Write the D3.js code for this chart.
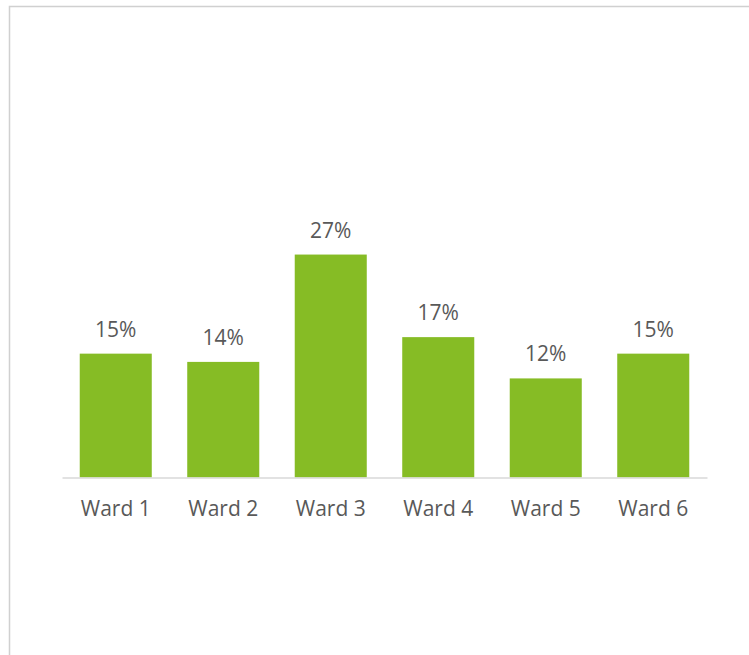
<!DOCTYPE html>
<html>
<head>
<meta charset="utf-8">
<script src="https://cdn.jsdelivr.net/npm/d3@7"></script>
<style>
  html, body { margin: 0; padding: 0; background: #fff; }
  svg { display: block; }
</style>
</head>
<body>
<svg id="chart" width="749" height="655"></svg>
<script>
// Share of respondents by ward
const categories = ["Ward 1", "Ward 2", "Ward 3", "Ward 4", "Ward 5", "Ward 6"];
const values = [0.15, 0.14, 0.27, 0.17, 0.12, 0.15];
const valueLabels = ["15%", "14%", "27%", "17%", "12%", "15%"];

const svg = d3.select("#chart");
const W = 749, H = 655;

// chart area outline (extends past the right and bottom edges)
svg.append("rect")
  .attr("x", 9.5).attr("y", 6.5)
  .attr("width", W + 20).attr("height", H + 20)
  .attr("fill", "#fff")
  .attr("stroke", "#d0d0d0")
  .attr("stroke-width", 1.5);

const plot = { left: 62, right: 707, top: 188.5, bottom: 477.5 };

const x = d3.scaleBand()
  .domain(categories)
  .range([plot.left, plot.right])
  .paddingInner(0.33)
  .paddingOuter(0.165);

const y = d3.scaleLinear()
  .domain([0, 0.35])
  .range([plot.bottom, plot.top]);

const font = "'Open Sans', sans-serif";
const textColor = "#595959";

svg.append("g")
  .selectAll("rect")
  .data(values)
  .join("rect")
  .attr("x", (d, i) => x(categories[i]))
  .attr("y", d => y(d))
  .attr("width", x.bandwidth())
  .attr("height", d => y(0) - y(d))
  .attr("fill", "#86bc25");

// category axis
const axis = svg.append("g")
  .attr("transform", `translate(0,${plot.bottom})`)
  .call(d3.axisBottom(x).tickSize(0).tickPadding(0).tickSizeOuter(0));
axis.select(".domain").attr("stroke", "#d9d9d9").attr("stroke-width", 1.5);
axis.selectAll("text")
  .attr("dy", null)
  .attr("y", 38)
  .attr("fill", textColor)
  .style("font-family", font)
  .style("font-size", "21px");

// value labels
svg.append("g")
  .selectAll("text")
  .data(values)
  .join("text")
  .attr("x", (d, i) => x(categories[i]) + x.bandwidth() / 2)
  .attr("y", d => y(d) - 17)
  .attr("text-anchor", "middle")
  .attr("fill", textColor)
  .style("font-family", font)
  .style("font-size", "21px")
  .text((d, i) => valueLabels[i]);
</script>
</body>
</html>
